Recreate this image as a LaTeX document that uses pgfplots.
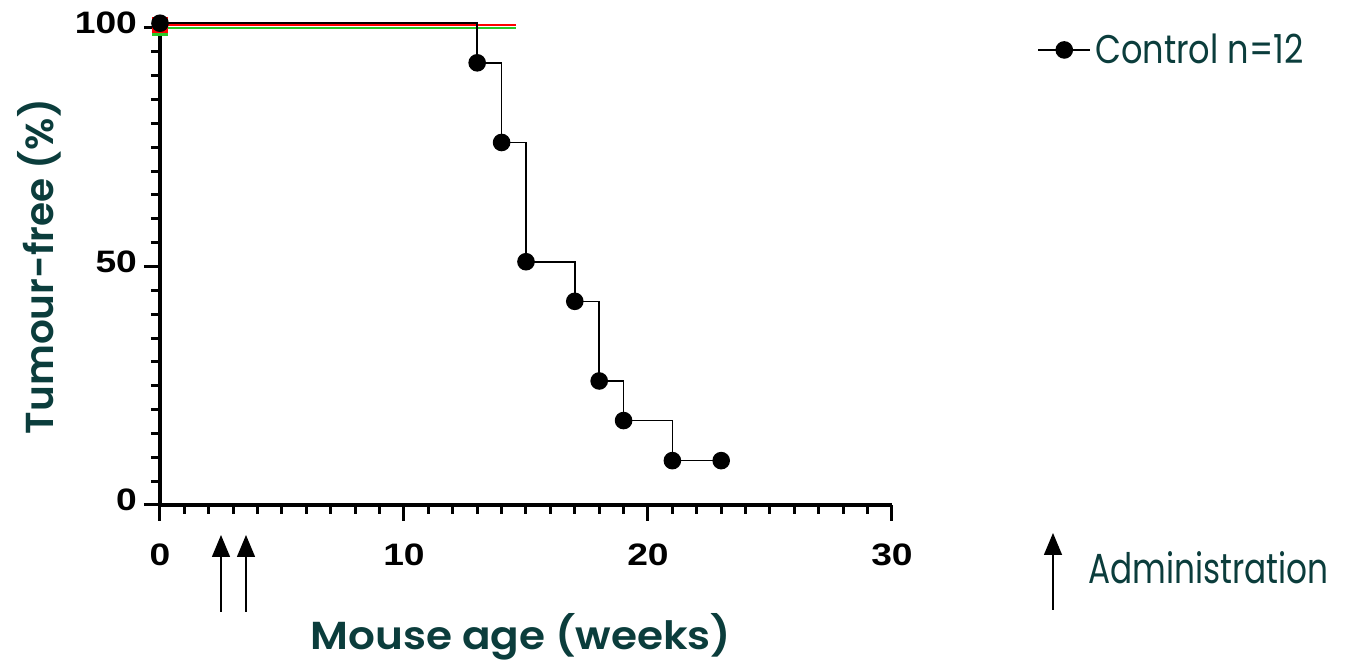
\documentclass[border=0pt]{standalone}
\usepackage{fontspec}
\setmainfont{Poppins}
\IfFontExistsTF{Poppins SemiBold}
  {\newfontfamily\labfont{Poppins SemiBold}
   \newfontfamily\xlabfont[FakeStretch=1.08]{Poppins SemiBold}}
  {\newfontfamily\labfont{Poppins}[BoldFont=*]
   \newfontfamily\xlabfont[FakeStretch=1.08]{Poppins}}
\newfontfamily\tickfont[FakeStretch=1.2]{Liberation Sans}
\newfontfamily\legfont[FakeStretch=0.84]{Poppins}
\newfontfamily\adminfont[FakeStretch=0.78]{Poppins}
\usepackage{pgfplots}
\pgfplotsset{compat=1.18}
\usetikzlibrary{arrows.meta}
\definecolor{labteal}{HTML}{0B3D3C}
\definecolor{kmred}{RGB}{255,0,0}
\definecolor{kmgreen}{RGB}{40,200,40}

\begin{document}
\begin{tikzpicture}[x=1pt,y=1pt]
\useasboundingbox (-80,-78.5) rectangle (592.5,252.5);
\begin{axis}[
    at={(0,0)}, anchor=south west,
    scale only axis,
    width=366pt, height=238.5pt,
    xmin=0, xmax=30, ymin=0, ymax=100,
    axis x line*=bottom, axis y line*=left,
    axis line style={line width=1.9pt, -},
    xtick={0,10,20,30}, ytick={0,50,100},
    minor x tick num=9, minor y tick num=9,
    tick align=outside,
    major tick length=8pt, minor tick length=4.5pt,
    every tick/.style={line width=1.5pt, black},
    /pgf/number format/assume math mode=true,
    ticklabel style={font=\tickfont\bfseries\fontsize{15.5}{18}\selectfont},
    xticklabel style={yshift=-8pt},
    yticklabel style={yshift=2.5pt},
    xlabel={Mouse age (weeks)},
    ylabel={Tumour-free (\%)},
    xlabel style={font=\xlabfont\fontsize{19.5}{22}\selectfont, text=labteal,
                  at={(axis description cs:0.5,0)}, anchor=base, yshift=-72.5pt, xshift=-2.5pt},
    ylabel style={font=\labfont\fontsize{19.5}{22}\selectfont, text=labteal,
                  at={(axis description cs:-0.1448,0.5)}, anchor=base},
    legend style={at={(1.19,0.954)}, anchor=west, draw=none, fill=none,
                  font=\legfont\fontsize{20}{22}\selectfont, text=labteal},
    legend image code/.code={\draw[mark repeat=2,mark phase=2,#1]
        plot coordinates {(0pt,0pt) (13pt,0pt) (26pt,0pt)};},
    clip=false,
]

% treated groups, hidden under the control curve at the start
\addplot[kmgreen, line width=0.8pt, mark=square*, mark size=3.5pt, mark indices={1}, forget plot]
    coordinates {(0,100) (14.6,100)};
\addplot[kmred, line width=0.8pt, mark=square*, mark size=3.5pt, mark indices={1}, forget plot]
    coordinates {(0,100.6) (14.6,100.6)};

% control, Kaplan-Meier steps
\addplot[black, line width=0.8pt, const plot, mark=*, mark size=4pt]
    coordinates {(0,101) (13,92.7) (14,76) (15,51) (17,42.7)
                 (18,26) (19,17.7) (21,9.3) (23,9.3)};
\addlegendentry{Control n=12}

\end{axis}

% administration arrows
\draw[-{Triangle[width=9pt,length=11pt]}, line width=0.75pt] (30.5,-53.5) -- (30.5,-15);
\draw[-{Triangle[width=9pt,length=11pt]}, line width=0.75pt] (43,-53.5) -- (43,-15);
\draw[-{Triangle[width=9pt,length=11pt]}, line width=0.75pt] (446.5,-52.5) -- (446.5,-14);
\node[anchor=base west, inner sep=0pt, text=labteal, font=\adminfont\fontsize{21}{22}\selectfont]
    at (464,-39.5) {Administration};
\end{tikzpicture}
\end{document}
